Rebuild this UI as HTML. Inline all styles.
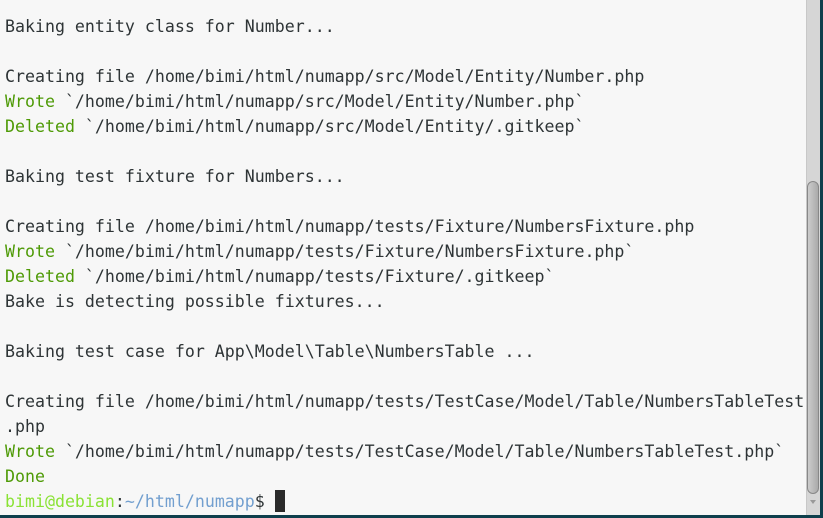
<!DOCTYPE html><html><head><style>
body{margin:0;width:823px;height:518px;overflow:hidden;background:#0e3f4c;}
#t{position:absolute;left:0;top:0;width:806px;height:515px;background:#f7f7f7;}
pre{margin:0;position:absolute;left:5px;top:14px;font-family:"DejaVu Sans Mono","Liberation Mono",monospace;font-size:16.6px;line-height:25px;color:#2e3436;}
.g{color:#4e9a06}.p{color:#8ae234}.b{color:#729fcf}
.cur{display:inline-block;width:10px;height:22px;background:#2a2a2a;vertical-align:-5px}
#tr{position:absolute;left:806px;top:0;width:14px;height:515px;background:#d6d6d6;border-left:1px solid #c8c8c8;box-sizing:border-box}
#th{position:absolute;left:807px;top:181px;width:12px;height:313px;background:linear-gradient(90deg,#ccc,#aaa);border:1px solid #888;border-radius:7px;box-sizing:border-box}
#ar{position:absolute;left:810px;top:500px;width:0;height:0;border-left:3px solid transparent;border-right:3px solid transparent;border-top:4px solid #999}
</style></head><body><div id="t"></div><div id="tr"></div><div id="th"></div><div id="ar"></div>
<pre>Baking entity class for Number...

Creating file /home/bimi/html/numapp/src/Model/Entity/Number.php
<span class="g">Wrote</span> `/home/bimi/html/numapp/src/Model/Entity/Number.php`
<span class="g">Deleted</span> `/home/bimi/html/numapp/src/Model/Entity/.gitkeep`

Baking test fixture for Numbers...

Creating file /home/bimi/html/numapp/tests/Fixture/NumbersFixture.php
<span class="g">Wrote</span> `/home/bimi/html/numapp/tests/Fixture/NumbersFixture.php`
<span class="g">Deleted</span> `/home/bimi/html/numapp/tests/Fixture/.gitkeep`
Bake is detecting possible fixtures...

Baking test case for App\Model\Table\NumbersTable ...

Creating file /home/bimi/html/numapp/tests/TestCase/Model/Table/NumbersTableTest
.php
<span class="g">Wrote</span> `/home/bimi/html/numapp/tests/TestCase/Model/Table/NumbersTableTest.php`
<span class="g">Done</span>
<span class="p">bimi@debian</span>:<span class="b">~/html/numapp</span>$ <span class="cur"></span></pre>
</body></html>
